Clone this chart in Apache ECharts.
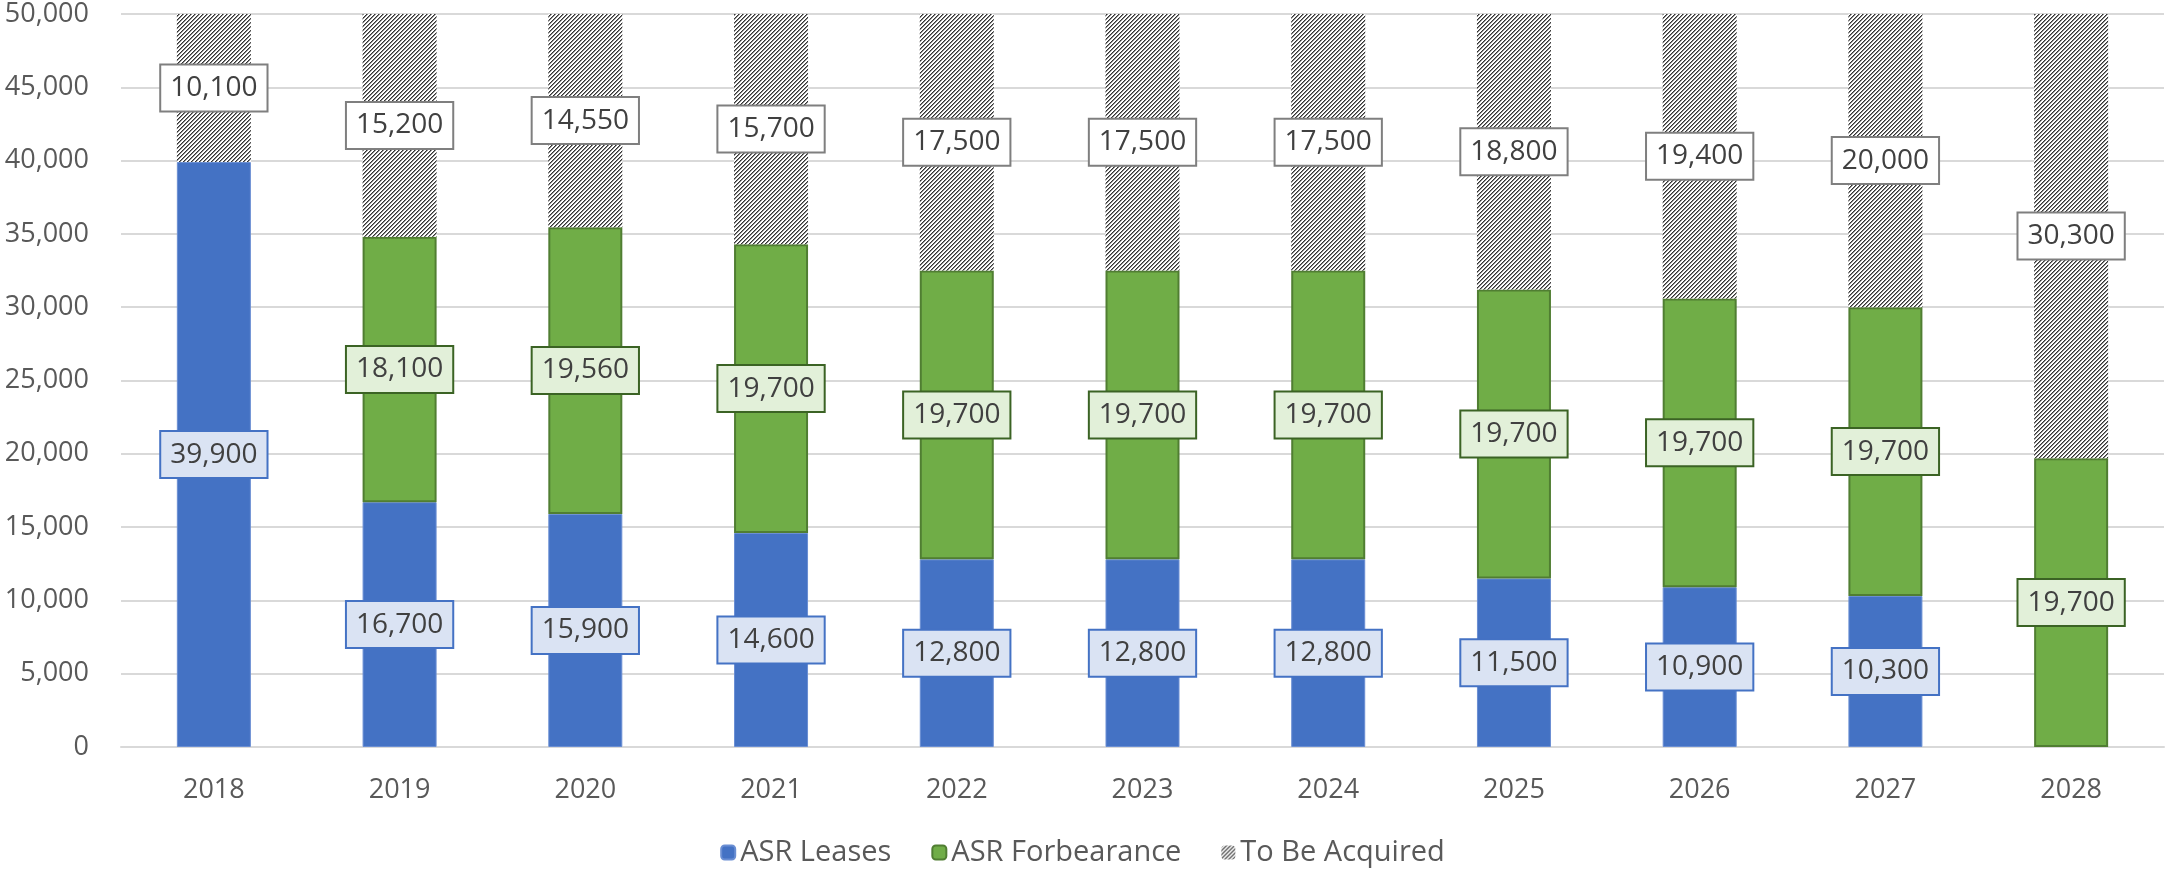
<!DOCTYPE html>
<html>
<head>
<meta charset="utf-8">
<script src="https://cdn.jsdelivr.net/npm/echarts@6/dist/echarts.min.js"></script>
<style>
  html, body { margin: 0; padding: 0; background: #fff; }
  #main { width: 2165px; height: 872px; }
</style>
</head>
<body>
<div id="main"></div>
<script>
  // data
  var years = ['2018', '2019', '2020', '2021', '2022', '2023', '2024', '2025', '2026', '2027', '2028'];
  var asrLeases = [39900, 16700, 15900, 14600, 12800, 12800, 12800, 11500, 10900, 10300, null];
  var asrForbearance = [null, 18100, 19560, 19700, 19700, 19700, 19700, 19700, 19700, 19700, 19700];
  var toBeAcquired = [10100, 15200, 14550, 15700, 17500, 17500, 17500, 18800, 19400, 20000, 30300];
  var yTicks = { min: 0, max: 50000, step: 5000 };

  var FONT = '"Open Sans", "Liberation Sans", sans-serif';

  // hatch pattern for "To Be Acquired"
  function makeHatch() {
    var c = document.createElement('canvas');
    c.width = 4; c.height = 4;
    var ctx = c.getContext('2d');
    ctx.fillStyle = '#ffffff';
    ctx.fillRect(0, 0, 4, 4);
    for (var x = 0; x < 4; x++) {
      for (var y = 0; y < 4; y++) {
        var k = (x + y) % 4;
        if (k === 0) { ctx.fillStyle = '#333333'; ctx.fillRect(x, y, 1, 1); }
        else if (k === 1) { ctx.fillStyle = '#8a8a8a'; ctx.fillRect(x, y, 1, 1); }
      }
    }
    return c;
  }
  var hatch = makeHatch();

  function fmt(v) {
    return Number(v).toLocaleString('en-US');
  }

  function boxLabel(bg, border) {
    return {
      show: true,
      position: 'inside',
      fontFamily: FONT,
      fontSize: 28,
      lineHeight: 34,
      color: '#404040',
      backgroundColor: bg,
      borderColor: border,
      borderWidth: 2,
      padding: [6, 9, 5, 9],
      formatter: function (p) { return fmt(p.value); }
    };
  }

  var chart = echarts.init(document.getElementById('main'));
  chart.setOption({
    animation: false,
    backgroundColor: '#ffffff',
    grid: { left: 121, right: 1, top: 14, bottom: 125, containLabel: false },
    legend: {
      bottom: 0,
      left: 'center',
      itemWidth: 14,
      itemHeight: 14,
      itemGap: 40,
      textStyle: { fontFamily: FONT, fontSize: 29, color: '#595959' },
      data: ['ASR Leases', 'ASR Forbearance', 'To Be Acquired']
    },
    xAxis: {
      type: 'category',
      data: years,
      axisTick: { show: false },
      axisLine: { lineStyle: { color: '#D9D9D9', width: 2 } },
      axisLabel: { fontFamily: FONT, fontSize: 27, color: '#595959', margin: 30 }
    },
    yAxis: {
      type: 'value',
      min: yTicks.min,
      max: yTicks.max,
      interval: yTicks.step,
      axisLine: { show: false },
      axisTick: { show: false },
      splitLine: { lineStyle: { color: '#D9D9D9', width: 2 } },
      axisLabel: {
        fontFamily: FONT, fontSize: 27, color: '#595959', margin: 32,
        formatter: function (v) { return fmt(v); }
      }
    },
    series: [
      {
        name: 'ASR Leases',
        type: 'bar',
        stack: 'total',
        barWidth: 74,
        data: asrLeases,
        itemStyle: { color: '#4472C4', borderColor: '#6A8ED3', borderWidth: 1 },
        label: boxLabel('#DAE3F3', '#4472C4')
      },
      {
        name: 'ASR Forbearance',
        type: 'bar',
        stack: 'total',
        barWidth: 74,
        data: asrForbearance,
        itemStyle: { color: '#70AD47', borderColor: '#507E32', borderWidth: 2 },
        label: boxLabel('#E2F0D9', '#3B6324')
      },
      {
        name: 'To Be Acquired',
        type: 'bar',
        stack: 'total',
        barWidth: 74,
        data: toBeAcquired,
        itemStyle: { color: { image: hatch, repeat: 'repeat' } },
        label: boxLabel('#FFFFFF', '#7F7F7F')
      }
    ]
  });
</script>
</body>
</html>
